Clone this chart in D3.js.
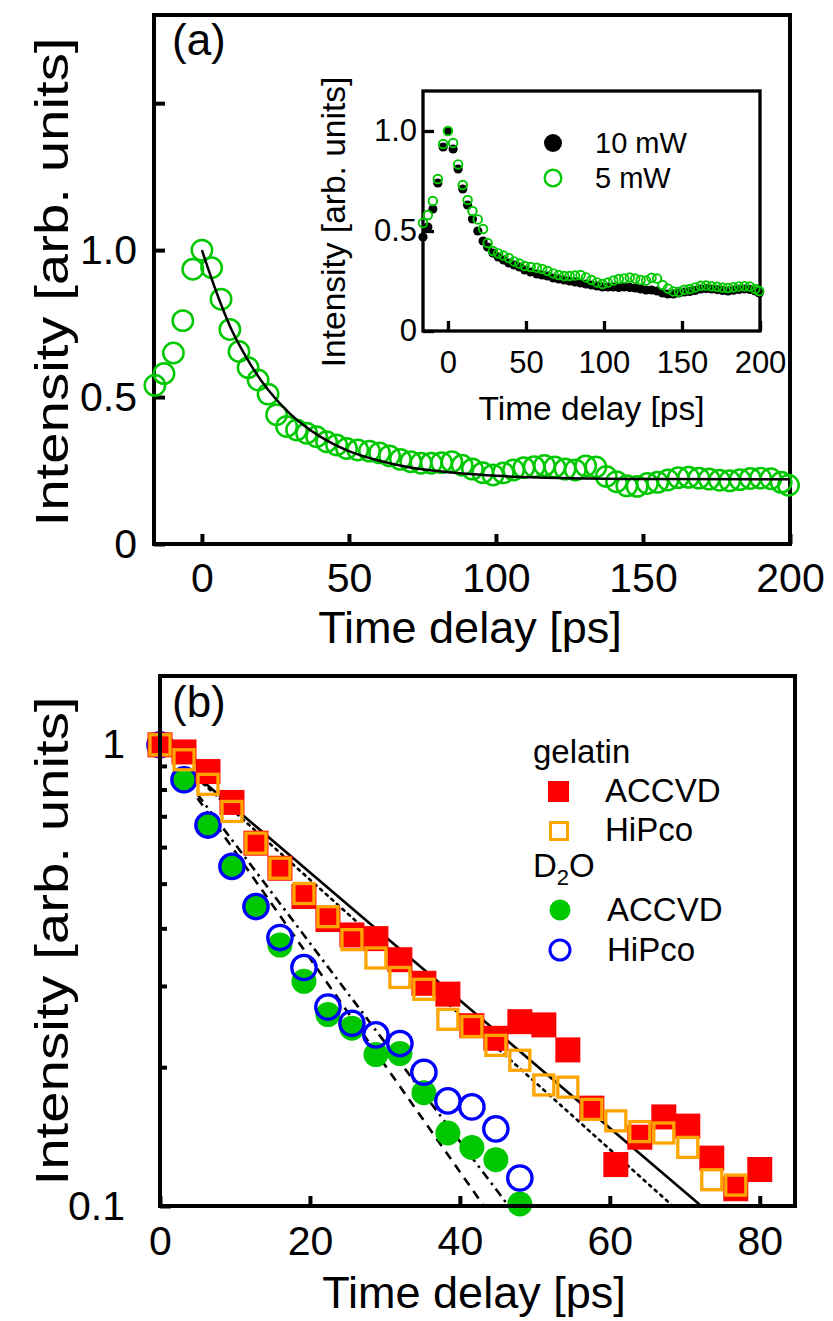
<!DOCTYPE html>
<html><head><meta charset="utf-8">
<script src="https://cdn.jsdelivr.net/npm/d3@7"></script>
<style>body{margin:0;background:#fff}</style>
</head><body>
<svg id="c" width="833" height="1321" xmlns="http://www.w3.org/2000/svg"></svg>
<script>
const FONT = "'Liberation Sans', Arial, Helvetica, sans-serif";
const GREEN = "#00c800", RED = "#ff0000", ORANGE = "#ffa500", BLUE = "#0000ff";

// ---------- Panel (a): 5 mW data (main + inset green) ----------
const aTime = [-16,-12.9,-9.7,-6.5,-3.1,0,3.3,6.5,9.5,12.6,15.7,19.1,22.5,25.4,28.8,32.2,35.6,39,42.4,45.8,49.2,53,57,60.4,63.8,67.5,71,74.5,78,81.5,85,88.5,92,95.5,99,102.5,106,109.5,113,116.5,120,123.5,127,130.5,134,137.5,141,144.5,148,151.5,155,158.5,162,165.5,169,172.5,176,179.5,183,186.5,190,193.5,197,199.5];
const a5mW = [0.54,0.58,0.65,0.76,0.935,1.0,0.94,0.833,0.73,0.655,0.60,0.558,0.51,0.44,0.40,0.388,0.377,0.365,0.348,0.337,0.325,0.32,0.316,0.31,0.30,0.288,0.28,0.275,0.275,0.277,0.28,0.268,0.255,0.243,0.235,0.242,0.252,0.26,0.263,0.267,0.262,0.255,0.252,0.266,0.262,0.23,0.212,0.198,0.196,0.206,0.21,0.218,0.226,0.227,0.224,0.221,0.217,0.215,0.219,0.223,0.224,0.222,0.21,0.2];
// inset 10 mW data (same delays)
const a10mW = [0.47,0.52,0.61,0.74,0.92,1.0,0.91,0.81,0.71,0.63,0.56,0.50,0.45,0.42,0.39,0.37,0.355,0.34,0.33,0.32,0.305,0.295,0.285,0.28,0.275,0.265,0.26,0.255,0.25,0.245,0.24,0.235,0.23,0.225,0.22,0.22,0.22,0.218,0.22,0.218,0.215,0.21,0.205,0.205,0.2,0.19,0.185,0.185,0.19,0.195,0.198,0.203,0.21,0.212,0.21,0.207,0.203,0.2,0.204,0.208,0.21,0.208,0.2,0.19];
// fit curve (a)
const aFitTime = [0,5,10,15,20,25,30,40,50,60,70,80,100,125,150,200];
const aFitVal  = [1.0,0.855,0.731,0.637,0.558,0.495,0.443,0.367,0.316,0.284,0.262,0.248,0.232,0.224,0.221,0.22];
const aXTicks = [0,50,100,150,200];
const aYTicks = [0,0.5,1.0,1.5];
const insetYTicks = [0,0.5,1.0];
const insetLegend = ["10 mW","5 mW"];

// ---------- Panel (b) ----------
const gelTime = [0,3.2,6.4,9.6,12.8,16,19.2,22.4,25.6,28.8,32,35.2,38.4,41.6,44.8,48,51.2,54.4,57.6,60.8,64,67.2,70.4,73.6,76.8,80];
const gelACCVD = [1.0,0.965,0.875,0.75,0.612,0.54,0.469,0.418,0.387,0.38,0.342,0.304,0.288,0.246,0.231,0.251,0.247,0.218,0.163,0.123,0.141,0.156,0.149,0.127,0.109,0.12];
const gelHiPcoTime = [0,3.2,6.4,9.6,12.8,16,19.2,22.4,25.6,28.8,32,35.2,38.4,41.6,44.8,48,51.2,54.4,57.6,60.8,64,67.2,70.4,73.6,76.8];
const gelHiPco = [1.0,0.928,0.821,0.717,0.612,0.54,0.476,0.424,0.378,0.345,0.313,0.295,0.254,0.245,0.223,0.207,0.183,0.181,0.162,0.153,0.145,0.144,0.134,0.114,0.111];
const d2oTime = [0,3.2,6.4,9.6,12.8,16,19.2,22.4,25.6,28.8,32,35.2,38.4,41.6,44.8,48];
const d2oACCVD = [1.0,0.84,0.67,0.545,0.446,0.368,0.307,0.26,0.243,0.213,0.214,0.176,0.144,0.134,0.126,0.101];
const d2oHiPco = [1.0,0.84,0.67,0.545,0.446,0.382,0.329,0.27,0.249,0.235,0.225,0.195,0.169,0.164,0.147,0.115];
// fitted lines (b): start/end points
const fitNames = ["solid","dotted","dashdot","dashed"];
const fitT0 = [5,5,5,5];
const fitV0 = [0.853,0.845,0.781,0.766];
const fitT1 = [72.2,68.4,46.5,43.2];
const fitV1 = [0.1,0.1,0.1,0.1];
const bXTicks = [0,20,40,60,80];
const bYTicks = [0.1,0.2,0.3,0.4,0.5,0.6,0.7,0.8,0.9,1];
const bLegendGroups = ["gelatin","D2O"];
const bLegendItems = ["ACCVD","HiPco","ACCVD","HiPco"];

const svg = d3.select("#c");
svg.append("rect").attr("width",833).attr("height",1321).attr("fill","#fff");

function styleAxis(g, fs, sw){
  g.attr("font-family",FONT).attr("font-size",fs);
  g.select(".domain").remove();
  g.selectAll(".tick line").attr("stroke","#000").attr("stroke-width",sw);
  g.selectAll(".tick text").attr("fill","#000");
}
function yTitle(cx, cy, fs, stretch, txt){
  svg.append("text").attr("transform",`translate(${cx},${cy}) rotate(-90) scale(${stretch},1)`)
    .attr("text-anchor","middle").attr("font-family",FONT).attr("font-size",fs).text(txt);
}

// ===== Panel (a) main =====
const ax = d3.scaleLinear().domain([-16.3,200]).range([154,790]);
const ay = d3.scaleLinear().domain([0,1.8]).range([544,15]);

const gaX = svg.append("g").attr("transform","translate(0,544)")
  .call(d3.axisBottom(ax).tickValues(aXTicks).tickSize(-10).tickSizeOuter(0).tickPadding(19).tickFormat(d3.format("d")));
styleAxis(gaX,41,4);
const gaY = svg.append("g").attr("transform","translate(154,0)")
  .call(d3.axisLeft(ay).tickValues(aYTicks).tickSize(-11).tickSizeOuter(0).tickPadding(17)
    .tickFormat(d => d===1.5 ? "" : (d===0 ? "0" : d3.format(".1f")(d))));
styleAxis(gaY,41,4);

svg.append("rect").attr("x",154).attr("y",15).attr("width",636).attr("height",529)
  .attr("fill","none").attr("stroke","#000").attr("stroke-width",4);

svg.append("g").selectAll("circle").data(aTime).join("circle")
  .attr("cx",(d)=>ax(d)).attr("cy",(d,i)=>ay(a5mW[i])).attr("r",10.2)
  .attr("fill","none").attr("stroke",GREEN).attr("stroke-width",2.5);

svg.append("path").datum(aFitTime)
  .attr("d", d3.line().x(d=>ax(d)).y((d,i)=>ay(aFitVal[i])).curve(d3.curveMonotoneX))
  .attr("fill","none").attr("stroke","#000").attr("stroke-width",2.5);

svg.append("text").attr("x",172).attr("y",55).attr("font-family",FONT).attr("font-size",44).text("(a)");
svg.append("text").attr("x",470).attr("y",643).attr("text-anchor","middle").attr("font-family",FONT).attr("font-size",45).text("Time delay [ps]");
yTitle(68, 282, 47, 1.2, "Intensity [arb. units]");

// ===== Inset =====
const ix = d3.scaleLinear().domain([-16,200]).range([423,760]);
const iy = d3.scaleLinear().domain([0,1.2]).range([331,91]);
svg.append("rect").attr("x",423).attr("y",91).attr("width",337).attr("height",240).attr("fill","#fff");
const giX = svg.append("g").attr("transform","translate(0,331)")
  .call(d3.axisBottom(ix).tickValues(aXTicks).tickSize(-10).tickSizeOuter(0).tickPadding(20).tickFormat(d3.format("d")));
styleAxis(giX,31,3.3);
const giY = svg.append("g").attr("transform","translate(423,0)")
  .call(d3.axisLeft(iy).tickValues(insetYTicks).tickSize(-11).tickSizeOuter(0).tickPadding(6)
    .tickFormat(d => d===0 ? "0" : d3.format(".1f")(d)));
styleAxis(giY,31,3.3);
svg.append("rect").attr("x",423).attr("y",91).attr("width",337).attr("height",240)
  .attr("fill","none").attr("stroke","#000").attr("stroke-width",3.3);

svg.append("g").selectAll("circle").data(aTime).join("circle")
  .attr("cx",d=>ix(d)).attr("cy",(d,i)=>iy(a10mW[i])).attr("r",4.6).attr("fill","#000");
svg.append("g").selectAll("circle").data(aTime).join("circle")
  .attr("cx",d=>ix(d)).attr("cy",(d,i)=>iy(a5mW[i])).attr("r",4.3)
  .attr("fill","none").attr("stroke",GREEN).attr("stroke-width",1.9);

svg.append("circle").attr("cx",553).attr("cy",143).attr("r",9).attr("fill","#000");
svg.append("circle").attr("cx",553).attr("cy",178).attr("r",8.3).attr("fill","none").attr("stroke",GREEN).attr("stroke-width",2.4);
svg.append("text").attr("x",595).attr("y",153).attr("font-family",FONT).attr("font-size",29).text(insetLegend[0]);
svg.append("text").attr("x",595).attr("y",188).attr("font-family",FONT).attr("font-size",29).text(insetLegend[1]);
svg.append("text").attr("x",591.5).attr("y",420).attr("text-anchor","middle").attr("font-family",FONT).attr("font-size",33.5).text("Time delay [ps]");
yTitle(345, 222, 33.5, 1.0, "Intensity [arb. units]");

// ===== Panel (b) =====
const bx = d3.scaleLinear().domain([0,84.7]).range([160,795]);
const by = d3.scaleLog().domain([0.1,1.41]).range([1206,676]);

const gbX = svg.append("g").attr("transform","translate(0,1206)")
  .call(d3.axisBottom(bx).tickValues(bXTicks).tickSize(-10).tickSizeOuter(0).tickPadding(20).tickFormat(d3.format("d")));
styleAxis(gbX,41,4);
const gbY = svg.append("g").attr("transform","translate(160,0)")
  .call(d3.axisLeft(by).tickValues(bYTicks).tickSize(-7).tickSizeOuter(0).tickPadding(35)
    .tickFormat(d => d===1 ? "1" : (d===0.1 ? "0.1" : "")));
styleAxis(gbY,41,4);
gbY.selectAll(".tick").filter(d => d===1 || d===0.1).select("line").attr("x2",11);

// fitted lines
const dashes = {solid:null, dotted:"2.5,5", dashdot:"9,5,2.5,5", dashed:"9,7"};
const fitG = svg.append("g");
fitNames.forEach((n,i)=>{
  fitG.append("path").datum([[fitT0[i],fitV0[i]],[fitT1[i],fitV1[i]]])
    .attr("d", d3.line().x(d=>bx(d[0])).y(d=>by(d[1])))
    .attr("fill","none").attr("stroke","#000").attr("stroke-width",2.6)
    .attr("stroke-dasharray",dashes[n]).attr("stroke-linecap", n==="dotted"?"round":"butt");
});

svg.append("g").selectAll("circle").data(d2oTime).join("circle")
  .attr("cx",d=>bx(d)).attr("cy",(d,i)=>by(d2oACCVD[i])).attr("r",12.5).attr("fill",GREEN);
svg.append("g").selectAll("circle").data(d2oTime).join("circle")
  .attr("cx",d=>bx(d)).attr("cy",(d,i)=>by(d2oHiPco[i])).attr("r",12.2)
  .attr("fill","none").attr("stroke",BLUE).attr("stroke-width",3.3);
svg.append("g").selectAll("rect").data(gelTime).join("rect")
  .attr("x",d=>bx(d)-12.5).attr("y",(d,i)=>by(gelACCVD[i])-12.5).attr("width",25).attr("height",25).attr("fill",RED);
svg.append("g").selectAll("rect").data(gelHiPcoTime).join("rect")
  .attr("x",d=>bx(d)-10).attr("y",(d,i)=>by(gelHiPco[i])-10).attr("width",20).attr("height",20)
  .attr("fill","none").attr("stroke",ORANGE).attr("stroke-width",3.3);

svg.append("rect").attr("x",160).attr("y",676).attr("width",635).attr("height",530)
  .attr("fill","none").attr("stroke","#000").attr("stroke-width",4);

svg.append("text").attr("x",172).attr("y",717).attr("font-family",FONT).attr("font-size",44).text("(b)");
svg.append("text").attr("x",474).attr("y",1308).attr("text-anchor","middle").attr("font-family",FONT).attr("font-size",45).text("Time delay [ps]");
yTitle(68, 941, 47, 1.2, "Intensity [arb. units]");

// legend (b)
const LF = 33;
svg.append("text").attr("x",533).attr("y",763).attr("font-family",FONT).attr("font-size",LF).text(bLegendGroups[0]);
svg.append("rect").attr("x",548).attr("y",781).attr("width",21).attr("height",21).attr("fill",RED);
svg.append("text").attr("x",605).attr("y",802).attr("font-family",FONT).attr("font-size",LF).text(bLegendItems[0]);
svg.append("rect").attr("x",550.5).attr("y",822.5).attr("width",17).attr("height",17).attr("fill","none").attr("stroke",ORANGE).attr("stroke-width",3);
svg.append("text").attr("x",605).attr("y",841).attr("font-family",FONT).attr("font-size",LF).text(bLegendItems[1]);
const d2o = svg.append("text").attr("x",533).attr("y",877).attr("font-family",FONT).attr("font-size",LF);
d2o.append("tspan").text("D");
d2o.append("tspan").attr("font-size",22).attr("dy",8).text("2");
d2o.append("tspan").attr("dy",-8).text("O");
svg.append("circle").attr("cx",560).attr("cy",910).attr("r",10.5).attr("fill",GREEN);
svg.append("text").attr("x",607).attr("y",921).attr("font-family",FONT).attr("font-size",LF).text(bLegendItems[2]);
svg.append("circle").attr("cx",560).attr("cy",950).attr("r",10).attr("fill","none").attr("stroke",BLUE).attr("stroke-width",3);
svg.append("text").attr("x",607).attr("y",961).attr("font-family",FONT).attr("font-size",LF).text(bLegendItems[3]);
</script>
</body></html>
